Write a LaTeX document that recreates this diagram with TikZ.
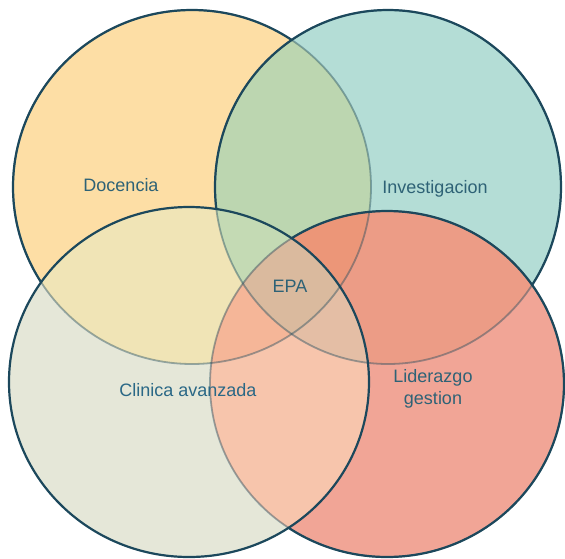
\documentclass[tikz,border=0pt]{standalone}
\usepackage{fontspec}
\setmainfont{Liberation Sans}
\definecolor{cD}{RGB}{253,222,165}
\definecolor{cI}{RGB}{180,221,214}
\definecolor{cC}{RGB}{229,231,216}
\definecolor{cL}{RGB}{241,165,150}
\definecolor{cDI}{RGB}{188,214,176}
\definecolor{cDC}{RGB}{240,228,182}
\definecolor{cIL}{RGB}{236,156,134}
\definecolor{cCL}{RGB}{247,197,172}
\definecolor{cDL}{RGB}{225,180,150}
\definecolor{cIC}{RGB}{200,215,190}
\definecolor{cDIC}{RGB}{196,218,180}
\definecolor{cDIL}{RGB}{236,150,120}
\definecolor{cDCL}{RGB}{245,182,152}
\definecolor{cICL}{RGB}{228,190,165}
\definecolor{cAll}{RGB}{218,186,158}
\definecolor{edge}{RGB}{28,72,92}
\definecolor{txt}{RGB}{46,98,118}
\newcommand\cirD{(192,187) ellipse [x radius=179pt, y radius=177pt]}
\newcommand\cirI{(388,187) ellipse [x radius=173pt, y radius=177pt]}
\newcommand\cirC{(189,382) ellipse [x radius=180pt, y radius=175pt]}
\newcommand\cirL{(387,384) ellipse [x radius=177pt, y radius=173pt]}
\newcommand\allfills{%
  \fill[cD] \cirD; \fill[cI] \cirI; \fill[cC] \cirC; \fill[cL] \cirL;
  \begin{scope}\clip \cirD; \fill[cDI] \cirI; \fill[cDC] \cirC; \fill[cDL] \cirL; \end{scope}
  \begin{scope}\clip \cirI; \fill[cIC] \cirC; \fill[cIL] \cirL; \end{scope}
  \begin{scope}\clip \cirC; \fill[cCL] \cirL; \end{scope}
  \begin{scope}\clip \cirD; \clip \cirI; \fill[cDIC] \cirC; \fill[cDIL] \cirL; \end{scope}
  \begin{scope}\clip \cirD; \clip \cirC; \fill[cDCL] \cirL; \end{scope}
  \begin{scope}\clip \cirI; \clip \cirC; \fill[cICL] \cirL; \end{scope}
  \begin{scope}\clip \cirD; \clip \cirI; \clip \cirC; \fill[cAll] \cirL; \end{scope}%
}
\begin{document}
\begin{tikzpicture}[x=1pt,y=-1pt,
  rim/.style={draw=edge, line width=2.2pt},
  faded/.style={draw=edge, line width=1.8pt, draw opacity=0.42},
  lab/.style={text=txt, font=\fontsize{18}{22}\selectfont, inner sep=0pt, align=center}]
\useasboundingbox (0,0) rectangle (565,558);
\fill[white] (0,0) rectangle (565,558);
\allfills
% Docencia outline, then covered by later circles
\draw[rim] \cirD;
\begin{scope}\clip \cirI; \allfills \end{scope}
\begin{scope}\clip \cirL; \allfills \end{scope}
\begin{scope}\clip \cirC; \allfills \end{scope}
% Investigacion outline
\draw[rim] \cirI;
\begin{scope}\clip \cirL; \allfills \end{scope}
\begin{scope}\clip \cirC; \allfills \end{scope}
% Liderazgo outline
\draw[rim] \cirL;
\begin{scope}\clip \cirC; \allfills \end{scope}
% Clinica outline
\draw[rim] \cirC;
% faded traces of the covered outlines
\draw[faded] \cirD;
\draw[faded] \cirI;
\draw[faded] \cirL;
% labels
\node[lab] (docencia) at (121,185) {Docencia};
\node[lab] (investigacion) at (435,189) {Investigacion};
\node[lab] (epa) at (290,286) {EPA};
\node[lab, text={rgb,255:red,42;green,104;blue,134}] (clinica) at (188,390) {Clinica avanzada};
\node[lab] (liderazgo) at (433,389) {Liderazgo\\gestion};
\end{tikzpicture}
\end{document}
